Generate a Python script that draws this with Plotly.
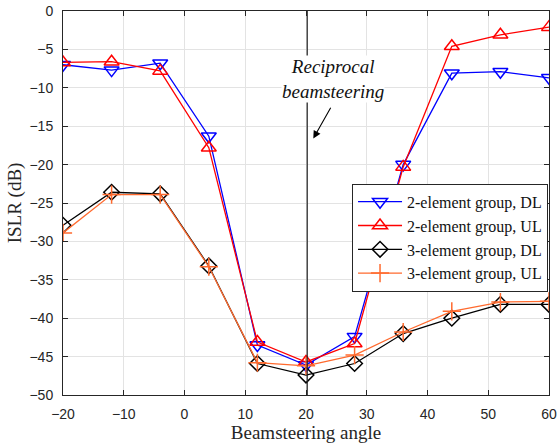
import plotly.graph_objects as go

angles = [-20, -12, -4, 4, 12, 20, 28, 36, 44, 52, 60]
g2_dl = [-7.0, -7.7, -6.8, -16.3, -43.5, -46.1, -42.4, -20.0, -8.1, -7.9, -8.7]
g2_ul = [-6.7, -6.6, -7.8, -17.8, -43.1, -45.7, -43.3, -20.3, -4.6, -3.1, -2.1]
g3_dl = [-27.9, -23.6, -23.8, -33.2, -45.9, -47.4, -45.9, -42.0, -40.0, -38.2, -38.2]
g3_ul = [-28.9, -23.9, -23.9, -33.3, -45.8, -46.2, -44.8, -41.8, -39.1, -37.9, -37.8]
names = ["2-element group, DL", "2-element group, UL", "3-element group, DL", "3-element group, UL"]
recip_x = 20.2

fig = go.Figure()
styles = [
    (g2_dl, "#0000FF", "triangle-down-open", 13),
    (g2_ul, "#FF0000", "triangle-up-open", 13),
    (g3_dl, "#000000", "diamond-open", 12),
    (g3_ul, "#FF6A2E", "cross-thin-open", 13),
]
for (vals, col, sym, sz), nm in zip(styles, names):
    fig.add_trace(go.Scatter(
        x=angles, y=vals, name=nm, mode="lines+markers",
        line=dict(color=col, width=1.3),
        marker=dict(symbol=sym, size=sz, color=col, line=dict(color=col, width=1.5)),
    ))

fig.add_shape(type="line", x0=recip_x, x1=recip_x, y0=-50, y1=0, xref="x", yref="y",
              line=dict(color="#222", width=1.2))

fig.add_annotation(x=24.4, y=-8.8, text="<i>Reciprocal<br>beamsteering</i>", showarrow=False,
                   font=dict(family="Liberation Serif", size=19, color="#111"),
                   bgcolor="white", xref="x", yref="y", borderpad=0)
fig.add_annotation(x=21.2, y=-16.6, ax=24.2, ay=-12.4, axref="x", ayref="y", xref="x", yref="y",
                   text="", showarrow=True, arrowhead=2, arrowsize=1.4, arrowwidth=1.1,
                   arrowcolor="black", standoff=0, startstandoff=0)

axis_common = dict(showline=True, linecolor="#262626", linewidth=1, mirror="ticks",
                   ticks="inside", ticklen=5, tickcolor="#262626",
                   showgrid=True, gridcolor="#E3E3E3", gridwidth=1, zeroline=False,
                   tickfont=dict(family="Liberation Sans", size=14, color="#262626"))

fig.update_xaxes(range=[-20, 60], dtick=10, tick0=0, ticklabelstandoff=6,
                 title=dict(text="Beamsteering angle", font=dict(family="Liberation Serif", size=19, color="#262626"), standoff=4),
                 **axis_common)
fig.update_yaxes(range=[-50, 0], dtick=5, tick0=0, ticklabelstandoff=6,
                 title=dict(text="ISLR (dB)", font=dict(family="Liberation Serif", size=19, color="#262626"), standoff=2),
                 **axis_common)

fig.update_layout(
    width=558, height=445,
    margin=dict(l=63, r=9, t=11, b=50, autoexpand=False),
    paper_bgcolor="white", plot_bgcolor="white",
    showlegend=True,
    legend=dict(x=0.998, y=0.55, xanchor="right", yanchor="top",
                bgcolor="white", bordercolor="#262626", borderwidth=1,
                font=dict(family="Liberation Serif", size=16, color="#111"),
                tracegroupgap=0, itemwidth=44),
)

fig.write_html("out.html", config={"displayModeBar": False},
               post_script="document.body.style.margin='0';document.body.style.padding='0';")
